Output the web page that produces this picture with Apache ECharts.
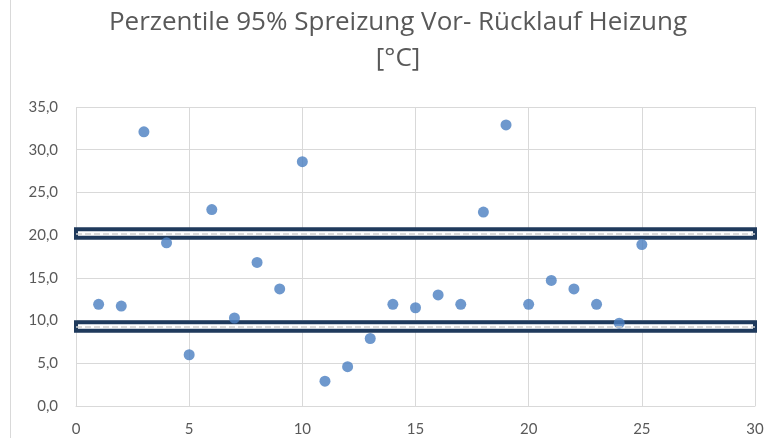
<!DOCTYPE html>
<html>
<head>
<meta charset="utf-8">
<script src="https://cdn.jsdelivr.net/npm/echarts@6/dist/echarts.min.js"></script>
<style>
html,body{margin:0;padding:0;background:#fff;}
#c{width:769px;height:438px;}
</style>
</head>
<body>
<div id="c"></div>
<script>
const titleText = 'Perzentile 95% Spreizung Vor- Rücklauf Heizung\n[°C]';
const xValues = [1,2,3,4,5,6,7,8,9,10,11,12,13,14,15,16,17,18,19,20,21,22,23,24,25];
const yValues = [11.9,11.7,32.1,19.1,6.0,23.0,10.3,16.8,13.7,28.6,2.9,4.6,7.9,11.9,11.5,13.0,11.9,22.7,32.9,11.9,14.7,13.7,11.9,9.7,18.9];
const bandValues = [20.2, 9.3];
const bandHalf = 0.5;

const chart = echarts.init(document.getElementById('c'), null, {renderer:'canvas'});
const font = 'Lato, "Open Sans", sans-serif';
const pts = xValues.map((x,i)=>[x, yValues[i]]);

chart.setOption({
  animation:false,
  backgroundColor:'#fff',
  title:{
    text:titleText,
    left:398, top:5, padding:0, textAlign:'center',
    textStyle:{fontFamily:'"Open Sans", sans-serif',fontSize:26,fontWeight:'normal',color:'#595959',lineHeight:36}
  },
  graphic:[{type:'line',shape:{x1:10.5,y1:0,x2:10.5,y2:438},style:{stroke:'#d9d9d9',lineWidth:1}}],
  grid:{left:76,right:14,top:107,bottom:32},
  xAxis:{
    type:'value',min:0,max:30,interval:5,
    axisLine:{show:true,lineStyle:{color:'#d9d9d9'}},
    axisTick:{show:false},
    splitLine:{show:true,lineStyle:{color:'#d9d9d9',width:1}},
    axisLabel:{fontFamily:font,fontSize:15,color:'#595959',margin:16}
  },
  yAxis:{
    type:'value',min:0,max:35,interval:5,
    axisLine:{show:false},
    axisTick:{show:false},
    splitLine:{show:true,lineStyle:{color:'#d9d9d9',width:1}},
    axisLabel:{fontFamily:font,fontSize:15,color:'#595959',margin:18,
      formatter:v=>v.toFixed(1).replace('.',',')}
  },
  series:[
    {type:'scatter',data:pts,symbolSize:11,itemStyle:{color:'#4A7EC0'},z:2},
    {type:'scatter',data:[],z:5,
      markArea:{silent:true,
        itemStyle:{color:'#ffffff',borderColor:'#1F3A5C',borderWidth:4},
        data:bandValues.map(v=>[{xAxis:0,yAxis:v-bandHalf},{xAxis:30,yAxis:v+bandHalf}])
      },
      markLine:{silent:true,symbol:'none',label:{show:false},
        lineStyle:{color:'#cfcfcf',width:1.5,type:[6,3]},
        data:bandValues.map(v=>({yAxis:v}))
      }
    }
  ]
});
</script>
</body>
</html>
